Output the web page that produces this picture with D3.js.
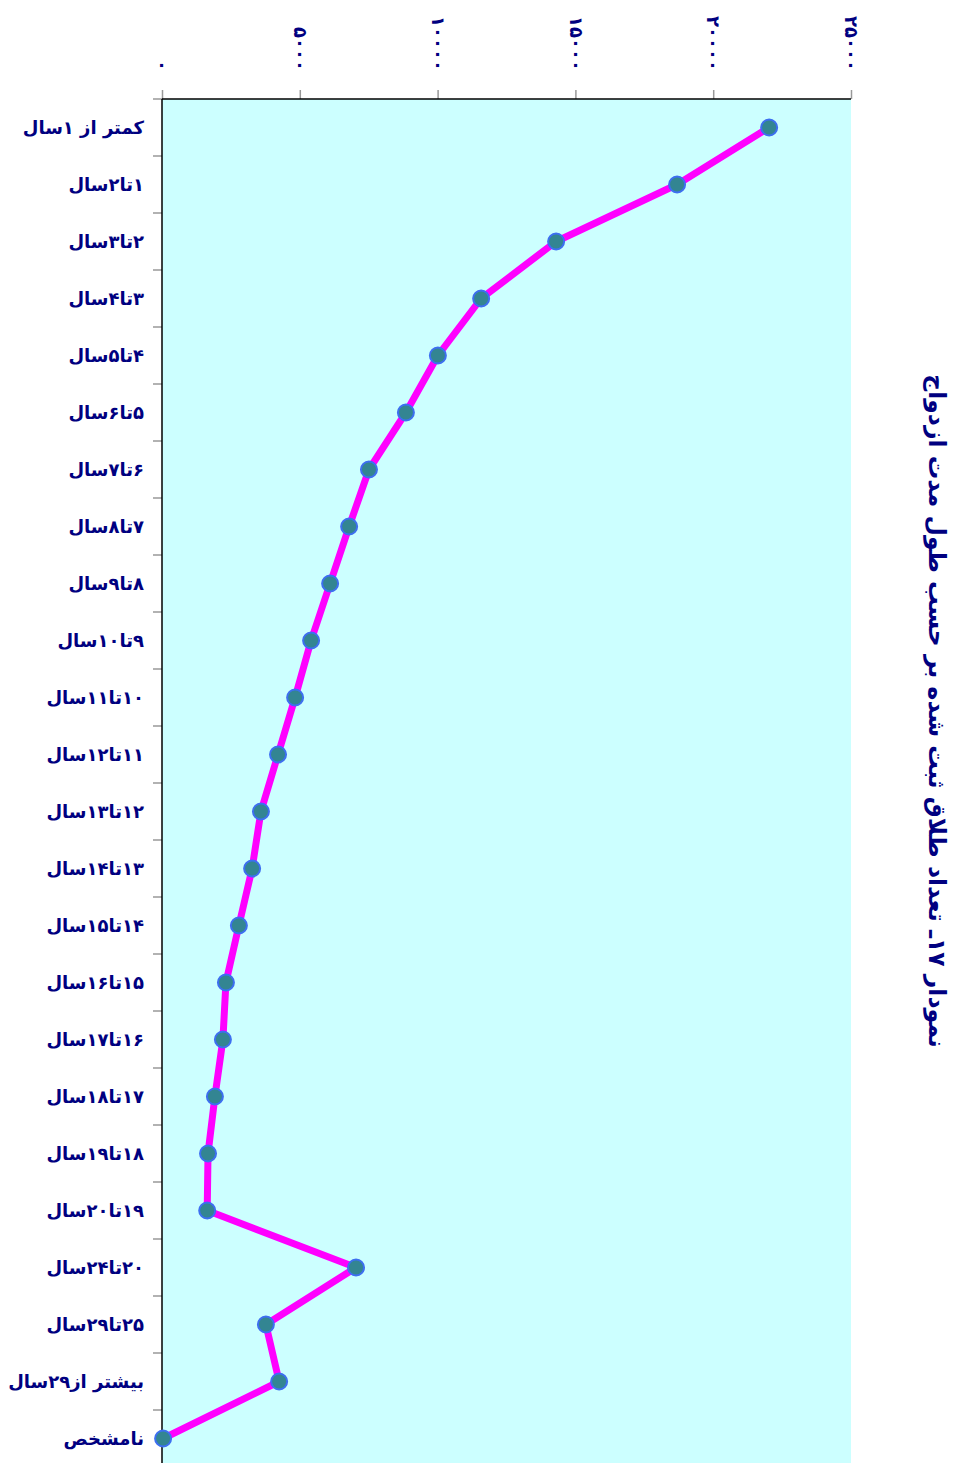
<!DOCTYPE html>
<html>
<head>
<meta charset="utf-8">
<script src="https://cdn.jsdelivr.net/npm/d3@7"></script>
<style>
  body { margin: 0; background: #fff; }
</style>
</head>
<body>
<div id="zone_graphique"></div>
<script>
var largeur = 957;
var hauteur = 1463;

// données : durée du mariage et nombre de divorces
var categories = ["کمتر از ۱سال", "۱تا۲سال", "۲تا۳سال", "۳تا۴سال", "۴تا۵سال", "۵تا۶سال",
    "۶تا۷سال", "۷تا۸سال", "۸تا۹سال", "۹تا۱۰سال", "۱۰تا۱۱سال", "۱۱تا۱۲سال",
    "۱۲تا۱۳سال", "۱۳تا۱۴سال", "۱۴تا۱۵سال", "۱۵تا۱۶سال", "۱۶تا۱۷سال", "۱۷تا۱۸سال",
    "۱۸تا۱۹سال", "۱۹تا۲۰سال", "۲۰تا۲۴سال", "۲۵تا۲۹سال", "بیشتر از۲۹سال", "نامشخص"];
var valeurs = [22030, 18690, 14300, 11580, 10010, 8850, 7510, 6790, 6100, 5410, 4830, 4210,
    3590, 3270, 2790, 2320, 2210, 1920, 1670, 1640, 7040, 3770, 4250, 40];
var ticks = [0, 5000, 10000, 15000, 20000, 25000];
var tickLabels = ["۰", "۵۰۰۰", "۱۰۰۰۰", "۱۵۰۰۰", "۲۰۰۰۰", "۲۵۰۰۰"];
var titre = "نمودار ۱۷ـ تعداد طلاق ثبت شده بر حسب طول مدت ازدواج";

var marge = {haut: 99, droite: 106, bas: 0, gauche: 162},
    width = largeur - marge.gauche - marge.droite,
    bande = 57,
    height = bande * categories.length;

var bleu = "#000080";

var svg = d3.select("#zone_graphique")
    .append("svg")
        .attr("width", largeur)
        .attr("height", hauteur)
        .style("display", "block");

var g = svg.append("g")
    .attr("transform", "translate(" + marge.gauche + "," + marge.haut + ")");

var x = d3.scaleLinear()
    .domain([0, 25000])
    .range([0, width]);

var y = d3.scaleBand()
    .domain(categories)
    .range([0, height]);

// fond du graphique
g.append("rect")
    .attr("width", width)
    .attr("height", height)
    .attr("fill", "#ccffff");

// axe du haut (valeurs)
var xAxis = g.append("g")
    .call(d3.axisTop(x).tickValues(ticks).tickSize(9)
        .tickFormat(function (d, i) { return tickLabels[i]; }));
xAxis.select(".domain").remove();
xAxis.selectAll("line").attr("stroke", "#999").attr("stroke-width", 1.5);
xAxis.selectAll("text")
    .attr("transform", "rotate(90)")
    .attr("x", -28)
    .attr("y", 0)
    .attr("dy", "0.35em")
    .attr("text-anchor", "end")
    .attr("fill", bleu)
    .attr("font-family", "DejaVu Sans")
    .attr("font-weight", "bold")
    .attr("font-size", "18px");

// axe de gauche (catégories) : graduations entre les bandes
g.selectAll(".sep")
    .data(d3.range(categories.length))
    .enter()
    .append("line")
        .attr("class", "sep")
        .attr("x1", -9)
        .attr("x2", 0)
        .attr("y1", function (d) { return y(categories[d]); })
        .attr("y2", function (d) { return y(categories[d]); })
        .attr("stroke", "#999")
        .attr("stroke-width", 1.5);

g.selectAll(".cat")
    .data(categories)
    .enter()
    .append("text")
        .attr("class", "cat")
        .attr("x", -18)
        .attr("y", function (d) { return y(d) + y.bandwidth() / 2; })
        .attr("dy", "0.35em")
        .attr("direction", "rtl")
        .attr("text-anchor", "start")
        .attr("fill", bleu)
        .attr("font-family", "DejaVu Sans")
        .attr("font-weight", "bold")
        .attr("font-size", "18px")
        .text(function (d) { return d; });

// bordures haut et gauche
g.append("line").attr("x1", 0).attr("x2", width).attr("y1", 0).attr("y2", 0)
    .attr("stroke", "#000").attr("stroke-width", 1.5);
g.append("line").attr("x1", 0).attr("x2", 0).attr("y1", 0).attr("y2", height)
    .attr("stroke", "#000").attr("stroke-width", 1.5);

// la courbe
var ligne = d3.line()
    .x(function (d) { return x(d); })
    .y(function (d, i) { return y(categories[i]) + y.bandwidth() / 2; });

g.append("path")
    .datum(valeurs)
    .attr("d", ligne)
    .attr("fill", "none")
    .attr("stroke", "#ff00ff")
    .attr("stroke-width", 7)
    .attr("stroke-linejoin", "round");

g.selectAll("circle")
    .data(valeurs)
    .enter()
    .append("circle")
        .attr("cx", function (d) { return x(d); })
        .attr("cy", function (d, i) { return y(categories[i]) + y.bandwidth() / 2; })
        .attr("r", 8)
        .attr("fill", "#338592")
        .attr("stroke", "#3d6ff0")
        .attr("stroke-width", 2);

// titre vertical à droite
svg.append("text")
    .attr("transform", "translate(929,711) rotate(90)")
    .attr("direction", "rtl")
    .attr("text-anchor", "middle")
    .attr("fill", bleu)
    .attr("font-family", "DejaVu Sans")
    .attr("font-weight", "bold")
    .attr("font-size", "23.5px")
    .text(titre);
</script>
</body>
</html>
